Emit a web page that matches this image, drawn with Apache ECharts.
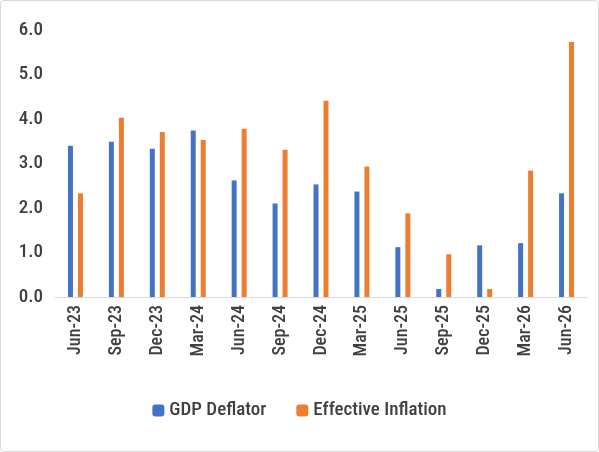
<!DOCTYPE html><html><head><meta charset="utf-8"><script src="https://cdn.jsdelivr.net/npm/echarts@6/dist/echarts.min.js"></script>
<style>body{margin:0}#c{width:597px;height:450px;border:1px solid #d9d9d9;border-radius:4px}</style></head><body><div id="c"></div><script>
const categories=['Jun-23','Sep-23','Dec-23','Mar-24','Jun-24','Sep-24','Dec-24','Mar-25','Jun-25','Sep-25','Dec-25','Mar-26','Jun-26'];
const gdpDeflator=[3.40,3.49,3.33,3.74,2.62,2.10,2.53,2.37,1.12,0.18,1.16,1.21,2.33];
const effectiveInflation=[2.33,4.03,3.71,3.53,3.78,3.31,4.41,2.93,1.88,0.96,0.18,2.84,5.73];
const c=echarts.init(document.getElementById('c'));
const f='"Roboto Condensed","Roboto",sans-serif';
c.setOption({
grid:{left:54,right:11,top:29,bottom:154},
legend:{bottom:26,itemWidth:12,itemHeight:12,itemGap:30,textStyle:{fontFamily:f,fontSize:19,fontWeight:500,color:'#404040'},data:['GDP Deflator','Effective Inflation']},
xAxis:{type:'category',data:categories,axisTick:{show:false},axisLine:{lineStyle:{color:'#d9d9d9'}},axisLabel:{rotate:90,fontFamily:f,fontSize:18,fontWeight:500,color:'#404040',interval:0,margin:8}},
yAxis:{type:'value',min:0,max:6,interval:1,splitLine:{show:false},axisLabel:{formatter:v=>v.toFixed(1),fontFamily:f,fontSize:19,fontWeight:500,color:'#404040',margin:12}},
series:[{name:'GDP Deflator',type:'bar',data:gdpDeflator,barWidth:5,barGap:'100%',itemStyle:{color:'#4472c4'}},
{name:'Effective Inflation',type:'bar',data:effectiveInflation,barWidth:5,itemStyle:{color:'#ed7d31'}}]
});
</script></body></html>
